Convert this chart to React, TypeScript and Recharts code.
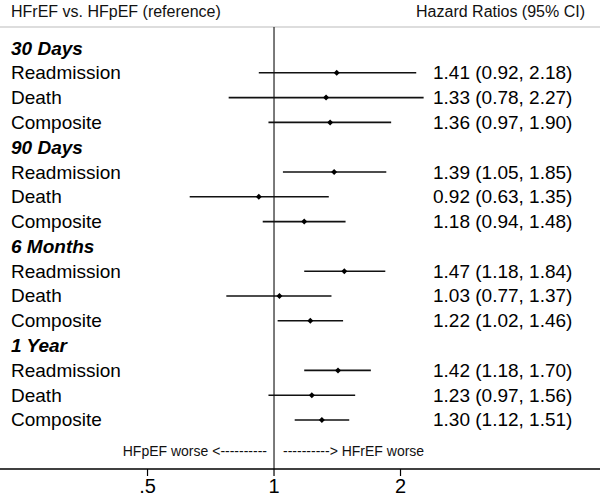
import React from "react";
import { ScatterChart, Scatter, XAxis, YAxis, ErrorBar, ReferenceLine } from "recharts";

const periods = ["30 Days", "90 Days", "6 Months", "1 Year"];
const outcomes = ["Readmission", "Death", "Composite"];
const hazard = [1.41, 1.33, 1.36, 1.39, 0.92, 1.18, 1.47, 1.03, 1.22, 1.42, 1.23, 1.3];
const lower = [0.92, 0.78, 0.97, 1.05, 0.63, 0.94, 1.18, 0.77, 1.02, 1.18, 0.97, 1.12];
const upper = [2.18, 2.27, 1.9, 1.85, 1.35, 1.48, 1.84, 1.37, 1.46, 1.7, 1.56, 1.51];
const xTicks = [0.5, 1, 2];

const FONT = "'Liberation Sans', Arial, sans-serif";
const Y_DOMAIN: [number, number] = [-0.847, 16.976];

const fmt = (v: number) => v.toFixed(2);

// one row per period header + one per outcome; x = 1 only anchors the row on the null line
const rows = periods.flatMap((p, i) => [
  { x: 1, y: i * 4, label: p, header: true, ci: "" },
  ...outcomes.map((o, j) => {
    const k = i * 3 + j;
    return {
      x: 1,
      y: i * 4 + j + 1,
      label: o,
      header: false,
      ci: `${fmt(hazard[k])} (${fmt(lower[k])}, ${fmt(upper[k])})`,
    };
  }),
]);

const points = periods.flatMap((_, i) =>
  outcomes.map((_o, j) => {
    const k = i * 3 + j;
    return { x: hazard[k], y: i * 4 + j + 1, err: [hazard[k] - lower[k], upper[k] - hazard[k]] };
  })
);

// row text: label in the left column, estimate in the right column
function RowText(props: any) {
  const { cy, payload } = props;
  return (
    <g>
      <text
        x={11}
        y={cy}
        dominantBaseline="central"
        fontFamily={FONT}
        fontSize={19}
        fontStyle={payload.header ? "italic" : "normal"}
        fontWeight={payload.header ? "bold" : "normal"}
        fill="#000"
      >
        {payload.label}
      </text>
      {payload.ci && (
        <text x={433} y={cy} dominantBaseline="central" fontFamily={FONT} fontSize={19} fill="#000">
          {payload.ci}
        </text>
      )}
    </g>
  );
}

function Diamond(props: any) {
  const { cx, cy } = props;
  const s = 3;
  return <polygon points={`${cx},${cy - s} ${cx + s},${cy} ${cx},${cy + s} ${cx - s},${cy}`} fill="#000" />;
}

function HeaderLabel(props: any) {
  const { viewBox } = props;
  const y = viewBox.y - 15.5;
  return (
    <g>
      <text x={11} y={y} dominantBaseline="central" fontFamily={FONT} fontSize={16} fill="#111">
        HFrEF vs. HFpEF (reference)
      </text>
      <text x={585} y={y} dominantBaseline="central" textAnchor="end" fontFamily={FONT} fontSize={16} fill="#111">
        Hazard Ratios (95% CI)
      </text>
    </g>
  );
}

function FooterLabel(props: any) {
  const { viewBox } = props;
  const y = viewBox.y + viewBox.height - 18;
  return (
    <g>
      <text x={viewBox.x - 7} y={y} dominantBaseline="central" textAnchor="end" fontFamily={FONT} fontSize={14} fill="#111">
        HFpEF worse &lt;----------
      </text>
      <text x={viewBox.x + 9} y={y} dominantBaseline="central" fontFamily={FONT} fontSize={14} fill="#111">
        ----------&gt; HFrEF worse
      </text>
    </g>
  );
}

export default function App() {
  return (
    <div style={{ position: "absolute", left: 0, top: 0, background: "#fff" }}>
      <ScatterChart width={600} height={496} margin={{ top: 27, right: 0, bottom: 0, left: 0 }}>
        <XAxis
          type="number"
          dataKey="x"
          scale="log"
          domain={[0.2228, 5.967]}
          allowDataOverflow
          ticks={xTicks}
          tickFormatter={(v: number) => (v < 1 ? String(v).replace(/^0/, "") : String(v))}
          height={27}
          tickSize={7}
          tickMargin={3}
          axisLine={{ stroke: "#000", strokeWidth: 1.3 }}
          tickLine={{ stroke: "#000", strokeWidth: 1.2 }}
          tick={{ fill: "#000", fontSize: 20, fontFamily: FONT }}
        />
        <YAxis type="number" dataKey="y" domain={Y_DOMAIN} reversed allowDataOverflow hide width={0} />
        <ReferenceLine y={Y_DOMAIN[0]} stroke="#d2d2d2" strokeWidth={1.5} label={<HeaderLabel />} />
        <ReferenceLine x={1} stroke="#222" strokeWidth={1.2} label={<FooterLabel />} />
        <Scatter data={rows} shape={<RowText />} isAnimationActive={false} />
        <Scatter data={points} shape={<Diamond />} isAnimationActive={false}>
          <ErrorBar dataKey="err" direction="x" width={0} stroke="#111" strokeWidth={1.6} />
        </Scatter>
      </ScatterChart>
    </div>
  );
}
